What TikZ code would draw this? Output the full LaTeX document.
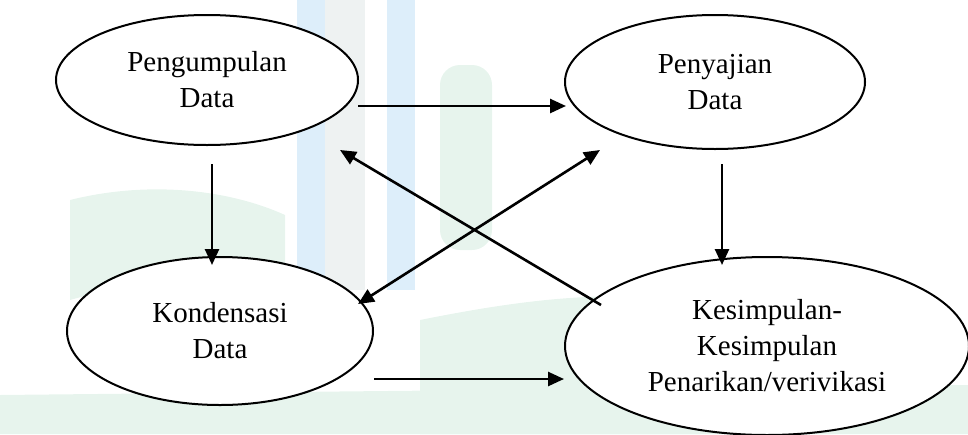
\documentclass[tikz,border=0pt]{standalone}
\usepackage{fontspec}
\setmainfont{Liberation Serif}
\usetikzlibrary{shapes.geometric,arrows.meta}
\definecolor{wmblue}{HTML}{DDEEFA}
\definecolor{wmgreen}{HTML}{E7F4ED}
\definecolor{wmgray}{HTML}{EEF2F2}
\tikzset{
  ell/.style={draw=black, line width=2pt, ellipse, fill=white, inner sep=0pt, align=center,
    font=\fontsize{29}{36}\selectfont},
  arr/.style={line width=2.6pt, -{Triangle[length=16pt,width=14pt]}},
  arrboth/.style={line width=2.6pt, {Triangle[length=16pt,width=14pt]}-{Triangle[length=16pt,width=14pt]}},
}
\begin{document}
\begin{tikzpicture}[x=1pt,y=-1pt]
\useasboundingbox (0,0) rectangle (968,434);
% faint watermark background
\fill[wmgreen] (0,395) -- (968,385) -- (968,434) -- (0,434) -- cycle;
\fill[wmgreen] (420,434) -- (420,320) .. controls (520,300) and (600,290) .. (700,300) -- (700,434) -- cycle;
\fill[wmgreen, rounded corners=20pt] (440,65) rectangle (492,250);
\fill[wmgreen] (70,200) .. controls (150,180) and (230,190) .. (285,215) -- (285,300) .. controls (220,280) and (140,280) .. (70,300) -- cycle;
\fill[wmgray] (325,0) rectangle (365,290);
\fill[wmblue] (297,0) rectangle (325,290);
\fill[wmblue] (387,0) rectangle (415,290);
% nodes
\node[ell, minimum width=302pt, minimum height=130pt] (P) at (207,80) {Pengumpulan\\Data};
\node[ell, minimum width=300pt, minimum height=134pt] (S) at (715,82) {Penyajian\\Data};
\node[ell, minimum width=306pt, minimum height=148pt] (K) at (220,331) {Kondensasi\\Data};
\node[ell, minimum width=404pt, minimum height=178pt] (Z) at (767,346) {Kesimpulan-\\Kesimpulan\\Penarikan/verivikasi};
% connectors
\draw[arr] ([shift={(151,26)}]P.center) -- ([shift={(-149,24)}]S.center);
\draw[arr] ([shift={(5,84)}]P.center) -- ([shift={(-8,-66)}]K.center);
\draw[arr] ([shift={(7,82)}]S.center) -- ([shift={(-45,-81)}]Z.center);
\draw[arr] ([shift={(154,48)}]K.center) -- ([shift={(-203,33)}]Z.center);
\draw[arr] ([shift={(-166,-41)}]Z.center) -- ([shift={(133,70)}]P.center);
\draw[arrboth] ([shift={(-115,68)}]S.center) -- ([shift={(138,-27)}]K.center);
\end{tikzpicture}
\end{document}
